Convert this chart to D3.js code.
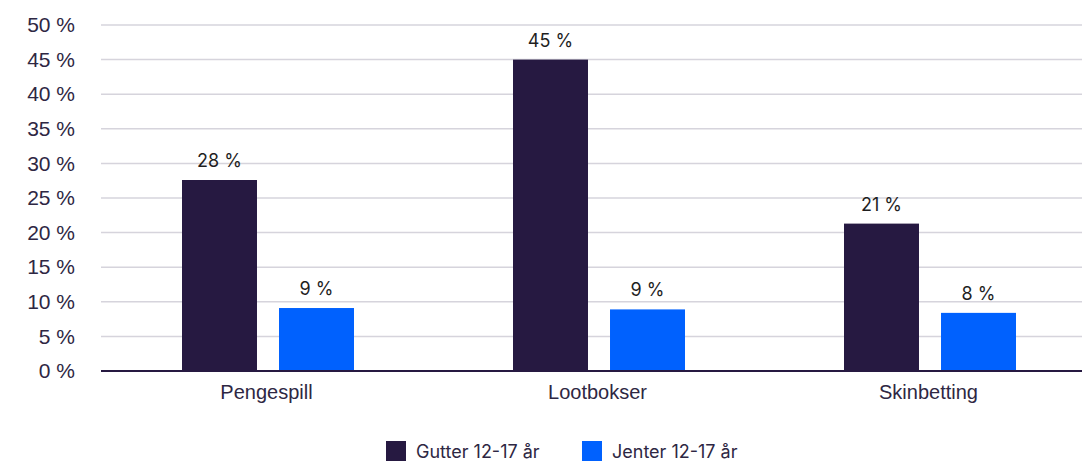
<!DOCTYPE html>
<html>
<head>
<meta charset="utf-8">
<script src="https://cdn.jsdelivr.net/npm/d3@7"></script>
<style>
  body { margin: 0; background: #fff; }
  svg { font-family: Inter, "Noto Sans", sans-serif; }
</style>
</head>
<body>
<svg id="chart"></svg>
<script>
var categories = ["Pengespill", "Lootbokser", "Skinbetting"]
var seriesNames = ["Gutter 12-17 år", "Jenter 12-17 år"]
var gutter = [27.6, 45, 21.3]
var jenter = [9.1, 8.9, 8.4]
var yTicks = [0, 5, 10, 15, 20, 25, 30, 35, 40, 45, 50]
var colors = ["#261941", "#0061fe"]

var dimensions = {
    width: 1082,
    height: 462,
    margin: { top: 25, bottom: 91, left: 101, right: 0 }
}

var svg = d3.select("#chart")
    .attr("width", dimensions.width)
    .attr("height", dimensions.height)

var dataset = categories.map((c, i) => ({ name: c, values: [gutter[i], jenter[i]] }))

var xScale = d3.scaleBand()
    .domain(categories)
    .range([dimensions.margin.left, 1094])

var xInner = d3.scaleBand()
    .domain([0, 1])
    .range([81, 253])
    .paddingInner(0.227)

var yScale = d3.scaleLinear()
    .domain([0, 50])
    .range([371, dimensions.margin.top])

// grid
svg.append("g")
    .selectAll("line")
    .data(yTicks.slice(1))
    .enter()
    .append("line")
    .attr("x1", dimensions.margin.left)
    .attr("x2", dimensions.width)
    .attr("y1", d => yScale(d))
    .attr("y2", d => yScale(d))
    .attr("stroke", "#d6d4dc")
    .attr("stroke-width", 1.5)

var yAxisgen = d3.axisLeft(yScale)
    .tickValues(yTicks)
    .tickFormat(d => d + " %")
    .tickSize(0)
    .tickPadding(26)

var yAxis = svg.append("g")
    .attr("transform", `translate(${dimensions.margin.left},0)`)
    .call(yAxisgen)
yAxis.select(".domain").remove()
yAxis.selectAll("text")
    .attr("fill", "#2e2743")
    .style("font-size", "21px")

// bars
var groups = svg.selectAll(".grp")
    .data(dataset)
    .enter()
    .append("g")
    .attr("transform", d => `translate(${xScale(d.name)},0)`)

groups.selectAll("rect")
    .data(d => d.values)
    .enter()
    .append("rect")
    .attr("x", (d, i) => xInner(i))
    .attr("width", xInner.bandwidth())
    .attr("y", d => yScale(d))
    .attr("height", d => yScale(0) - yScale(d))
    .attr("fill", (d, i) => colors[i])

groups.selectAll(".lbl")
    .data(d => d.values)
    .enter()
    .append("text")
    .attr("x", (d, i) => xInner(i) + xInner.bandwidth() / 2)
    .attr("y", d => yScale(d) - 13)
    .attr("text-anchor", "middle")
    .attr("fill", "#1f1f1f")
    .style("font-size", "18px")
    .text(d => Math.round(d) + " %")

// x axis
var xAxisgen = d3.axisBottom(xScale).tickSize(0).tickPadding(14)
var xAxis = svg.append("g")
    .attr("transform", `translate(0,${yScale(0)})`)
    .call(xAxisgen)
xAxis.select(".domain")
    .attr("d", `M${dimensions.margin.left},0H${dimensions.width}`)
    .attr("stroke", "#261941")
    .attr("stroke-width", 2)
xAxis.selectAll("text")
    .attr("fill", "#2e2743")
    .style("font-size", "20px")

// legend
var legendX = [386, 582]
var legend = svg.selectAll(".leg")
    .data(seriesNames)
    .enter()
    .append("g")
    .attr("transform", (d, i) => `translate(${legendX[i]},441)`)
legend.append("rect")
    .attr("width", 20)
    .attr("height", 20)
    .attr("fill", (d, i) => colors[i])
legend.append("text")
    .attr("x", 30)
    .attr("y", 17)
    .attr("fill", "#2e2743")
    .style("font-size", "18px")
    .text(d => d)
</script>
</body>
</html>
